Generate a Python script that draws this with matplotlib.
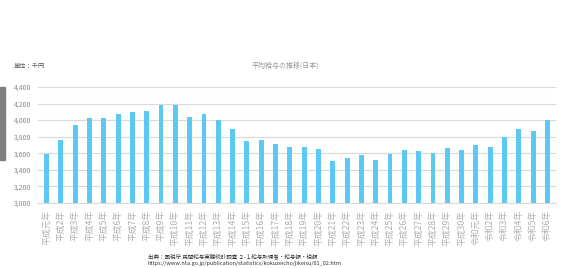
import matplotlib.pyplot as plt
import matplotlib.patches as mpatches

plt.rcParams['font.family'] = ['Noto Sans CJK JP', 'DejaVu Sans']

years = ['平成元年'] + ['平成%d年' % i for i in range(2, 31)] + ['令和元年'] + ['令和%d年' % i for i in range(2, 7)]
salary = [3592, 3760, 3940, 4028, 4028, 4076, 4104, 4116, 4184, 4184,
          4032, 4080, 4000, 3888, 3748, 3764, 3708, 3672, 3672, 3652,
          3504, 3544, 3580, 3520, 3596, 3640, 3624, 3600, 3660, 3640,
          3700, 3676, 3796, 3892, 3868, 4004]
yticks = [3000, 3200, 3400, 3600, 3800, 4000, 4200, 4400]

fig = plt.figure(figsize=(5.62, 2.68), dpi=100)
ax = fig.add_axes([38 / 562, 1 - 203 / 268, 518 / 562, 116 / 268])

x = range(len(years))
ax.bar(x, salary, width=0.34, color='#5bc8f5', zorder=3)
ax.set_ylim(3000, 4400)
ax.set_xlim(-0.6, len(years) - 0.4)
ax.set_yticks(yticks)
ax.set_yticklabels(['{:,}'.format(v) for v in yticks], fontsize=5, color='#888888')
ax.set_xticks(list(x))
ax.set_xticklabels(years, rotation=90, fontsize=6.3, color='#b0b0b0')
ax.tick_params(axis='x', length=0, pad=5)
ax.tick_params(axis='y', length=0, pad=5)
ax.grid(axis='y', color='#d9d9d9', linewidth=0.8, zorder=0)
for s in ['top', 'right', 'left']:
    ax.spines[s].set_visible(False)
ax.spines['bottom'].set_color('#d9d9d9')

fig.text(14 / 562, 1 - 66 / 268, '単位：千円', fontsize=4.5, color='#555555', va='center')
fig.text(285 / 562, 1 - 66 / 268, '平均給与の推移(日本)', fontsize=5, color='#999999', ha='center', va='center')
fig.text(148 / 562, 1 - 256 / 268, '出典：国税庁 民間給与実態統計調査 ２-１給与所得者・給与額・税額',
         fontsize=4, color='#333333', va='center')
fig.text(148 / 562, 1 - 264 / 268, 'https://www.nta.go.jp/publication/statistics/kokuzeicho/jikeisu/01_02.htm',
         fontsize=4, color='#333333', va='center')

fig.patches.append(mpatches.Rectangle((0, 1 - 160 / 268), 5 / 562, 73 / 268,
                                      transform=fig.transFigure, color='#7f7f7f', figure=fig))

fig.savefig('out.png', dpi=100)
